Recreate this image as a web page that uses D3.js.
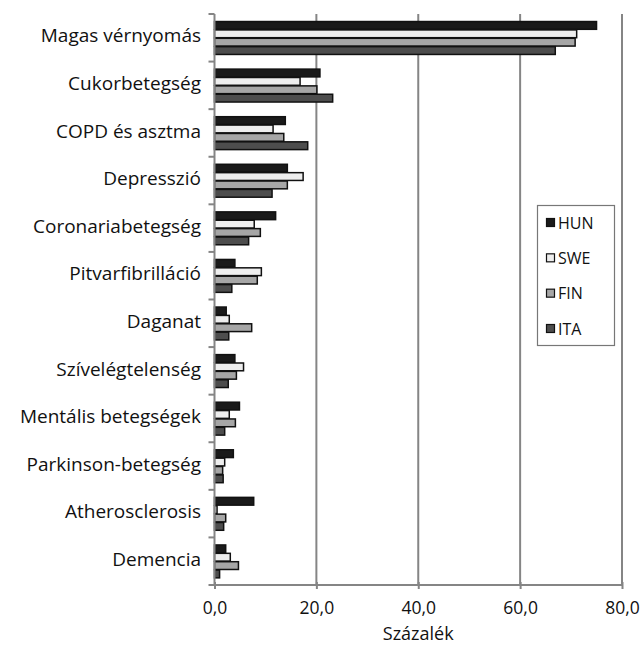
<!DOCTYPE html>
<html><head><meta charset="utf-8">
<script src="https://cdn.jsdelivr.net/npm/d3@7"></script>
<style>body{margin:0;background:#fff}</style>
</head><body>
<svg id="c" width="641" height="645"></svg>
<script>
const categories = ["Magas vérnyomás","Cukorbetegség","COPD és asztma","Depresszió","Coronariabetegség","Pitvarfibrilláció","Daganat","Szívelégtelenség","Mentális betegségek","Parkinson-betegség","Atherosclerosis","Demencia"];
const seriesNames = ["HUN","SWE","FIN","ITA"];
const HUN = [75.0,20.7,13.9,14.3,12.0,4.0,2.3,4.0,4.9,3.7,7.7,2.2];
const SWE = [71.1,16.8,11.5,17.4,7.8,9.2,2.9,5.7,2.9,2.0,0.5,3.1];
const FIN = [70.8,20.1,13.6,14.3,9.0,8.4,7.3,4.3,4.1,1.6,2.2,4.7];
const ITA = [66.9,23.2,18.3,11.3,6.7,3.4,2.8,2.7,2.0,1.7,1.8,1.0];
const xTicks = [0,20,40,60,80];
const colors = ["#1a1a1a","#eeeeee","#a6a6a6","#4d4d4d"];

const seriesData = [HUN,SWE,FIN,ITA];
const svg = d3.select("#c");
const font = "'Open Sans', sans-serif";
const x = d3.scaleLinear().domain([0,80]).range([214.5,622]);
const y = d3.scaleBand().domain(categories).range([14,585]).paddingInner(0).paddingOuter(0);
const inner = d3.scaleBand().domain(seriesNames).range([0,y.bandwidth()]).paddingInner(0).paddingOuter(0.84);

// gridlines
svg.append("g").selectAll("line").data(xTicks.slice(1)).join("line")
  .attr("x1",d=>x(d)).attr("x2",d=>x(d)).attr("y1",14).attr("y2",585)
  .attr("stroke","#858585").attr("stroke-width",2);

// bars
const g = svg.append("g");
seriesData.forEach((arr,si)=>{
  g.selectAll(null).data(arr).join("rect")
    .attr("x",x(0))
    .attr("y",(d,i)=>y(categories[i])+inner(seriesNames[si])+0.5)
    .attr("width",d=>x(d)-x(0))
    .attr("height",inner.bandwidth()-0.6)
    .attr("fill",colors[si]).attr("stroke","#111").attr("stroke-width",1.5);
});

// x axis
const xa = svg.append("g").attr("transform","translate(0,585)")
  .call(d3.axisBottom(x).tickValues(xTicks).tickSize(6).tickPadding(11)
    .tickFormat(d=>d3.format(".1f")(d).replace(".",",")));
xa.select(".domain").attr("stroke","#858585").attr("stroke-width",2).attr("d","M"+x(0)+",0H"+x(80));
xa.selectAll(".tick line").attr("stroke","#858585").attr("stroke-width",2).attr("y1",-3).attr("y2",4);
xa.selectAll("text").attr("font-family",font).attr("font-size",17.5).attr("fill","#111");

// y axis with ticks at boundaries
const yb = [...categories.map(c=>y(c)), 585];
svg.append("line").attr("x1",x(0)).attr("x2",x(0)).attr("y1",14).attr("y2",585)
  .attr("stroke","#858585").attr("stroke-width",2);
svg.append("g").selectAll("line").data(yb).join("line")
  .attr("x1",x(0)-6).attr("x2",x(0)).attr("y1",d=>d).attr("y2",d=>d)
  .attr("stroke","#858585").attr("stroke-width",2);
svg.append("g").selectAll("text").data(categories).join("text")
  .attr("x",201).attr("y",d=>y(d)+y.bandwidth()/2-2).attr("dy","0.35em")
  .attr("text-anchor","end").attr("font-family",font).attr("font-size",19).attr("fill","#111")
  .text(d=>d);

svg.append("text").attr("x",x(40)).attr("y",640).attr("text-anchor","middle")
  .attr("font-family",font).attr("font-size",18).attr("fill","#111").text("Százalék");

// legend
const lg = svg.append("g");
lg.append("rect").attr("x",537.5).attr("y",205.5).attr("width",77).attr("height",140)
  .attr("fill","#fff").attr("stroke","#777").attr("stroke-width",1.2);
const ly = d3.scalePoint().domain(seriesNames).range([223,329]);
seriesNames.forEach((s,i)=>{
  lg.append("rect").attr("x",546.5).attr("y",ly(s)-4.5).attr("width",8).attr("height",8)
    .attr("fill",colors[i]).attr("stroke","#111").attr("stroke-width",1.2);
  lg.append("text").attr("x",558).attr("y",ly(s)).attr("dy","0.36em")
    .attr("font-family",font).attr("font-size",16).attr("fill","#111").text(s);
});
</script>
</body></html>
